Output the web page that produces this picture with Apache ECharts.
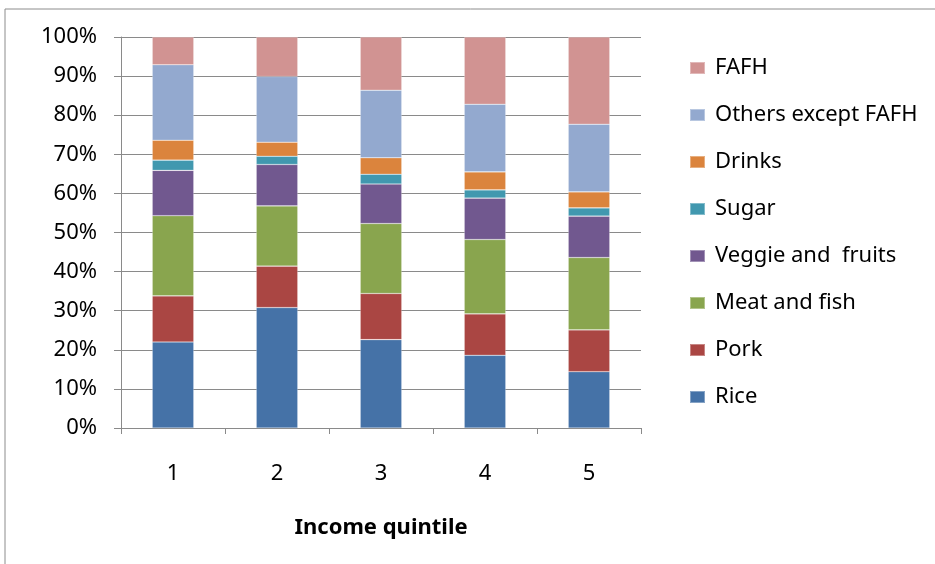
<!DOCTYPE html>
<html>
<head>
<meta charset="utf-8">
<script src="https://cdn.jsdelivr.net/npm/echarts@6/dist/echarts.min.js"></script>
<style>
  html, body { margin: 0; padding: 0; background: #ffffff; }
  #chart { width: 935px; height: 564px; }
</style>
</head>
<body>
<div id="chart"></div>
<script>
// Food expenditure shares (%) by income quintile
const quintiles = ['1', '2', '3', '4', '5'];

const rice          = [22.0, 30.8, 22.6, 18.6, 14.4];
const pork          = [11.8, 10.6, 11.8, 10.6, 10.7];
const meatAndFish   = [20.5, 15.4, 17.9, 19.0, 18.5];
const veggieFruits  = [11.6, 10.6, 10.1, 10.6, 10.6];
const sugar         = [2.6, 2.1, 2.5, 2.1, 2.1];
const drinks        = [5.1, 3.6, 4.2, 4.6, 4.1];
const othersExcept  = [19.3, 16.8, 17.3, 17.3, 17.3];
const fafh          = [7.1, 10.1, 13.6, 17.2, 22.3];

const yTicks = [0, 10, 20, 30, 40, 50, 60, 70, 80, 90, 100];

const seriesDefs = [
  { name: 'Rice', data: rice, color: '#4572A7' },
  { name: 'Pork', data: pork, color: '#AA4643' },
  { name: 'Meat and fish', data: meatAndFish, color: '#89A54E' },
  { name: 'Veggie and  fruits', data: veggieFruits, color: '#71588F' },
  { name: 'Sugar', data: sugar, color: '#4198AF' },
  { name: 'Drinks', data: drinks, color: '#DB843D' },
  { name: 'Others except FAFH', data: othersExcept, color: '#93A9CF' },
  { name: 'FAFH', data: fafh, color: '#D19392' }
];

const FONT = '"Noto Sans", "Open Sans", sans-serif';
const GRAY = '#8a8a8a';

const chart = echarts.init(document.getElementById('chart'), null, { renderer: 'canvas' });

chart.setOption({
  animation: false,
  backgroundColor: '#ffffff',
  textStyle: { fontFamily: FONT, color: '#000000' },
  graphic: [
    {
      type: 'rect',
      shape: { x: 5, y: 9, width: 940, height: 570 },
      style: { fill: 'none', stroke: '#8c8c8c', lineWidth: 1 },
      silent: true,
      z: -10
    }
  ],
  grid: {
    left: 121,
    right: 294,
    top: 37,
    bottom: 136,
    containLabel: false,
    outerBoundsMode: 'none'
  },
  legend: {
    orient: 'vertical',
    left: 689,
    top: 56,
    padding: 0,
    itemWidth: 15,
    itemHeight: 12,
    itemGap: 23,
    icon: 'rect',
    selectedMode: false,
    data: seriesDefs.map(s => s.name).reverse(),
    textStyle: {
      fontFamily: FONT,
      fontSize: 22,
      color: '#000000',
      lineHeight: 24,
      padding: [0, 0, 0, 5]
    }
  },
  xAxis: {
    type: 'category',
    data: quintiles,
    boundaryGap: true,
    name: 'Income quintile',
    nameLocation: 'middle',
    nameGap: 89,
    nameTextStyle: { fontFamily: FONT, fontSize: 22, fontWeight: 'bold', color: '#000000' },
    axisLine: { lineStyle: { color: GRAY, width: 1 } },
    axisTick: { show: true, length: 6, alignWithLabel: false, lineStyle: { color: GRAY } },
    axisLabel: { fontFamily: FONT, fontSize: 22, color: '#000000', margin: 35 },
    splitLine: { show: false }
  },
  yAxis: {
    type: 'value',
    min: yTicks[0],
    max: yTicks[yTicks.length - 1],
    interval: yTicks[1] - yTicks[0],
    axisLine: { show: true, lineStyle: { color: GRAY, width: 1 } },
    axisTick: { show: true, length: 7, lineStyle: { color: GRAY } },
    axisLabel: {
      fontFamily: FONT,
      fontSize: 22,
      color: '#000000',
      margin: 24,
      padding: [4, 0, 0, 0],
      formatter: v => v + '%'
    },
    splitLine: { show: true, lineStyle: { color: GRAY, width: 1 } }
  },
  series: seriesDefs.map(s => ({
    name: s.name,
    type: 'bar',
    stack: 'share',
    barWidth: '40%',
    data: s.data,
    itemStyle: {
      color: s.color,
      borderColor: 'rgba(255,255,255,0.35)',
      borderWidth: 0.6
    },
    emphasis: { disabled: true }
  }))
});
</script>
</body>
</html>
